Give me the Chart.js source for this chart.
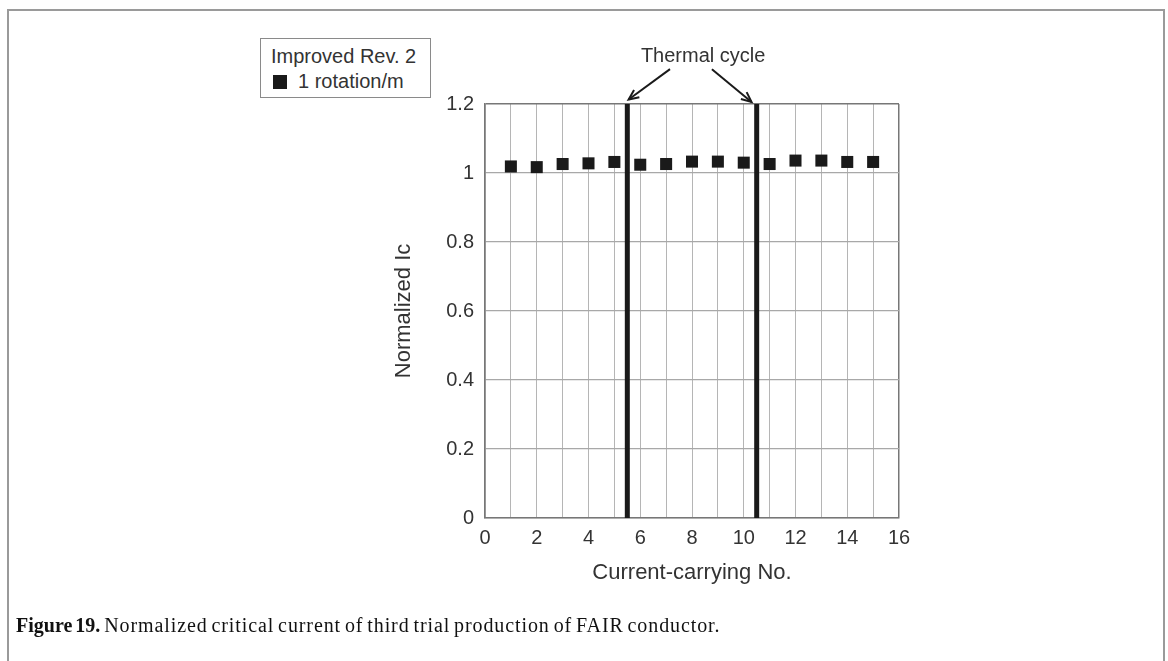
<!DOCTYPE html>
<html><head><meta charset="utf-8">
<script src="https://cdn.jsdelivr.net/npm/chart.js@4"></script>
<style>
html,body{margin:0;padding:0;background:#fff;}
#wrap{position:relative;width:1168px;height:661px;overflow:hidden;background:#fff;}
#frame{position:absolute;left:7px;top:9px;width:1158px;height:720px;border:2px solid #9a9a9a;box-sizing:border-box;}
#c{position:absolute;left:0;top:0;}
#legend{position:absolute;left:260px;top:38px;width:171px;height:60px;border:1px solid #8a8a8a;box-sizing:border-box;font-family:"Liberation Sans",Arial,sans-serif;font-size:20px;color:#333;background:#fff;}
#legend .t1{position:absolute;left:10px;top:6px;white-space:nowrap;}
#legend .sq{position:absolute;left:12px;top:36px;width:14px;height:14px;background:#1a1a1a;}
#legend .t2{position:absolute;left:37px;top:31px;white-space:nowrap;}
#cap{position:absolute;left:16px;top:614px;font-family:"Liberation Serif","Times New Roman",serif;font-size:20px;letter-spacing:0.9px;word-spacing:-2px;color:#111;white-space:nowrap;}
#cap b{font-weight:bold;letter-spacing:0px;}
</style>
</head><body>
<div id="wrap">
<div id="frame"></div>
<canvas id="c" width="1168" height="661"></canvas>
<div id="legend"><span class="t1">Improved Rev. 2</span><span class="sq"></span><span class="t2">1 rotation/m</span></div>
<div id="cap"><b>Figure 19.</b> Normalized critical current of third trial production of FAIR conductor.</div>
</div>
<script>
// ---- data ----
const currentNo = [1,2,3,4,5,6,7,8,9,10,11,12,13,14,15];
const normalizedIc = [1.019,1.017,1.026,1.028,1.032,1.024,1.026,1.033,1.033,1.030,1.026,1.036,1.036,1.032,1.032];
const thermalCycles = [5.5, 10.5];
const xMin = 0, xMax = 16, xStep = 1, xLabelEvery = 2;
const yMin = 0, yMax = 1.2, yStep = 0.2;
const seriesLabel = '1 rotation/m';
const annotationText = 'Thermal cycle';

const textColor = '#333';
const fontFam = '"Liberation Sans", Arial, sans-serif';

const datasets = [{
  label: seriesLabel,
  data: currentNo.map((x,i)=>({x:x, y:normalizedIc[i]})),
  showLine: false,
  pointStyle: 'rect',
  pointRadius: 8.5,
  pointHoverRadius: 8.5,
  backgroundColor: '#1a1a1a',
  borderColor: '#1a1a1a',
  borderWidth: 0
}];
thermalCycles.forEach(tc => {
  datasets.push({
    label: 'tc',
    data: [{x:tc, y:yMin},{x:tc, y:yMax}],
    showLine: true,
    borderColor: '#1a1a1a',
    borderWidth: 5,
    pointRadius: 0,
    borderCapStyle: 'butt'
  });
});

const annotPlugin = {
  id: 'annot',
  afterDraw(chart) {
    const {ctx, scales:{x, y}} = chart;
    ctx.save();
    ctx.fillStyle = textColor;
    ctx.font = '20px ' + fontFam;
    ctx.textAlign = 'center';
    ctx.textBaseline = 'middle';
    ctx.fillText(annotationText, x.getPixelForValue(8.43), y.getPixelForValue(1.339));
    const arrows = [
      {from:[7.15,1.301], to:[thermalCycles[0]+0.05,1.213]},
      {from:[8.77,1.301], to:[thermalCycles[1]-0.2,1.206]}
    ];
    ctx.strokeStyle = '#1a1a1a';
    ctx.lineWidth = 2;
    arrows.forEach(a => {
      const x1 = x.getPixelForValue(a.from[0]), y1 = y.getPixelForValue(a.from[1]);
      const x2 = x.getPixelForValue(a.to[0]), y2 = y.getPixelForValue(a.to[1]);
      ctx.beginPath(); ctx.moveTo(x1,y1); ctx.lineTo(x2,y2); ctx.stroke();
      const ang = Math.atan2(y2-y1, x2-x1);
      const L = 11, sp = 0.42;
      ctx.beginPath();
      ctx.moveTo(x2 - L*Math.cos(ang-sp), y2 - L*Math.sin(ang-sp));
      ctx.lineTo(x2, y2);
      ctx.lineTo(x2 - L*Math.cos(ang+sp), y2 - L*Math.sin(ang+sp));
      ctx.stroke();
    });
    ctx.restore();
  }
};

new Chart(document.getElementById('c'), {
  type: 'scatter',
  data: { datasets },
  options: {
    responsive: false,
    animation: false,
    events: [],
    layout: { padding: { left: 375, right: 269, top: 104, bottom: 63 } },
    plugins: { legend: { display: false }, tooltip: { enabled: false } },
    scales: {
      x: {
        type: 'linear', min: xMin, max: xMax,
        afterFit(s){ s.height = 80; },
        ticks: {
          stepSize: xStep, autoSkip: false, maxRotation: 0, padding: 8,
          color: textColor, font: { family: fontFam, size: 20 },
          callback: v => (Math.round(v) % xLabelEvery === 0 ? String(v) : '')
        },
        grid: {
          color: ctx => (ctx.tick && (ctx.tick.value === xMin || ctx.tick.value === xMax)) ? '#777' : '#b5b5b5',
          lineWidth: ctx => (ctx.tick && (ctx.tick.value === xMin || ctx.tick.value === xMax)) ? 1.5 : 1,
          tickLength: 0, drawTicks: false
        },
        border: { color: '#777', width: 1.5 },
        title: { display: true, text: 'Current-carrying No.', color: textColor,
          font: { family: fontFam, size: 22 }, padding: { top: 0, bottom: 12 } }
      },
      y: {
        type: 'linear', min: yMin, max: yMax,
        afterFit(s){ s.width = 110; },
        ticks: {
          stepSize: yStep, padding: 11,
          color: textColor, font: { family: fontFam, size: 20 },
          callback: v => String(Math.round(v*10)/10)
        },
        grid: {
          color: ctx => (ctx.tick && Math.abs(ctx.tick.value - yMax) < 1e-9) ? '#777' : '#a8a8a8',
          lineWidth: ctx => (ctx.tick && Math.abs(ctx.tick.value - yMax) < 1e-9) ? 1.5 : 1.2,
          tickLength: 0, drawTicks: false
        },
        border: { color: '#777', width: 1.5 },
        title: { display: true, text: 'Normalized Ic', color: textColor,
          font: { family: fontFam, size: 22 }, padding: { top: 16, bottom: 0 } }
      }
    }
  },
  plugins: [annotPlugin]
});
</script>
</body></html>
